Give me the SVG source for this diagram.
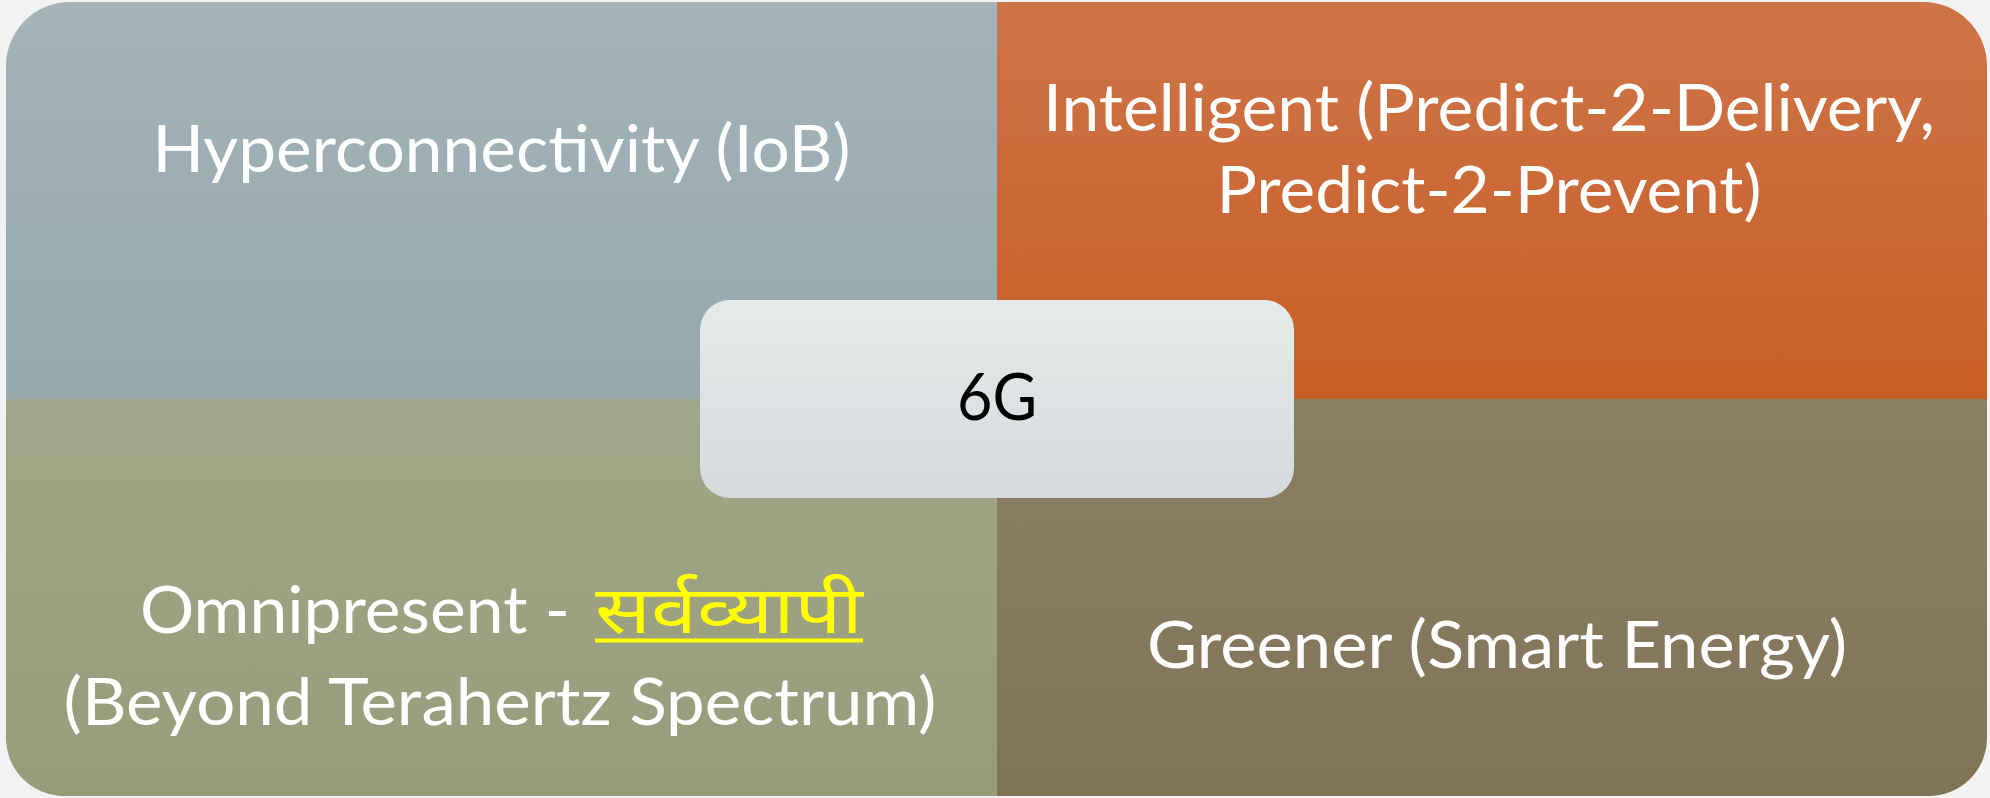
<svg xmlns="http://www.w3.org/2000/svg" width="1990" height="798" viewBox="0 0 1990 798">
  <defs>
    <linearGradient id="gTL" x1="0" y1="0" x2="0" y2="1">
      <stop offset="0" stop-color="#a4b4b9"/>
      <stop offset="1" stop-color="#94a8ae"/>
    </linearGradient>
    <linearGradient id="gTR" x1="0" y1="0" x2="0" y2="1">
      <stop offset="0" stop-color="#ce7448"/>
      <stop offset="1" stop-color="#c85f26"/>
    </linearGradient>
    <linearGradient id="gBL" x1="0" y1="0" x2="0" y2="1">
      <stop offset="0" stop-color="#a1a688"/>
      <stop offset="1" stop-color="#979d7b"/>
    </linearGradient>
    <linearGradient id="gBR" x1="0" y1="0" x2="0" y2="1">
      <stop offset="0" stop-color="#8d7f65"/>
      <stop offset="1" stop-color="#817357"/>
    </linearGradient>
    <linearGradient id="gC" x1="0" y1="0" x2="0" y2="1">
      <stop offset="0" stop-color="#e5eaea"/>
      <stop offset="1" stop-color="#d5dadd"/>
    </linearGradient>
  </defs>
  <style>
    .lbl { font-family: "Lato", "Open Sans", "Noto Sans", sans-serif; font-size: 66px; fill: #ffffff; }
    .c { text-anchor: middle; }
    .deva { font-family: "Noto Sans Devanagari", "Lohit Devanagari", "Nirmala UI", "Mangal", "Noto Sans", sans-serif; font-size: 66px; fill: #ffff00; }
    .center { font-family: "Lato", "Open Sans", "Noto Sans", sans-serif; font-size: 66px; fill: #000000; text-anchor: middle; }
  </style>
  <rect x="0" y="0" width="1990" height="798" fill="#f2f2f2"/>

  <g id="node-hyperconnectivity">
    <path d="M6,66 A64,64 0 0 1 70,2 L997,2 L997,399 L6,399 Z" fill="url(#gTL)"/>
    <text class="lbl c" x="501.5" y="172" textLength="698" lengthAdjust="spacingAndGlyphs">Hyperconnectivity (IoB)</text>
  </g>

  <g id="node-intelligent">
    <path d="M997,2 L1923,2 A64,64 0 0 1 1987,66 L1987,399 L997,399 Z" fill="url(#gTR)"/>
    <text class="lbl c" x="1489" y="131" textLength="892" lengthAdjust="spacingAndGlyphs">Intelligent (Predict-2-Delivery,</text>
    <text class="lbl c" x="1489" y="213" textLength="545" lengthAdjust="spacingAndGlyphs">Predict-2-Prevent)</text>
  </g>

  <g id="node-omnipresent">
    <path d="M6,399 L997,399 L997,796 L64,796 A58,58 0 0 1 6,738 Z" fill="url(#gBL)"/>
    <text class="lbl" x="140" y="633" textLength="430" lengthAdjust="spacingAndGlyphs">Omnipresent -</text>
    <text class="deva" x="595" y="633" textLength="268" lengthAdjust="spacingAndGlyphs">सर्वव्यापी</text>
    <rect x="595" y="638.5" width="268" height="4" fill="#ffff00"/>
    <text class="lbl c" x="500" y="725" textLength="873" lengthAdjust="spacingAndGlyphs">(Beyond Terahertz Spectrum)</text>
  </g>

  <g id="node-greener">
    <path d="M997,399 L1987,399 L1987,738 A58,58 0 0 1 1929,796 L997,796 Z" fill="url(#gBR)"/>
    <text class="lbl c" x="1497" y="668" textLength="700" lengthAdjust="spacingAndGlyphs">Greener (Smart Energy)</text>
  </g>

  <g id="node-6g">
    <rect x="700" y="300" width="594" height="198" rx="30" ry="30" fill="url(#gC)"/>
    <text class="center" x="997" y="420" textLength="80" lengthAdjust="spacingAndGlyphs">6G</text>
  </g>

  <g id="connectors"></g>
</svg>
